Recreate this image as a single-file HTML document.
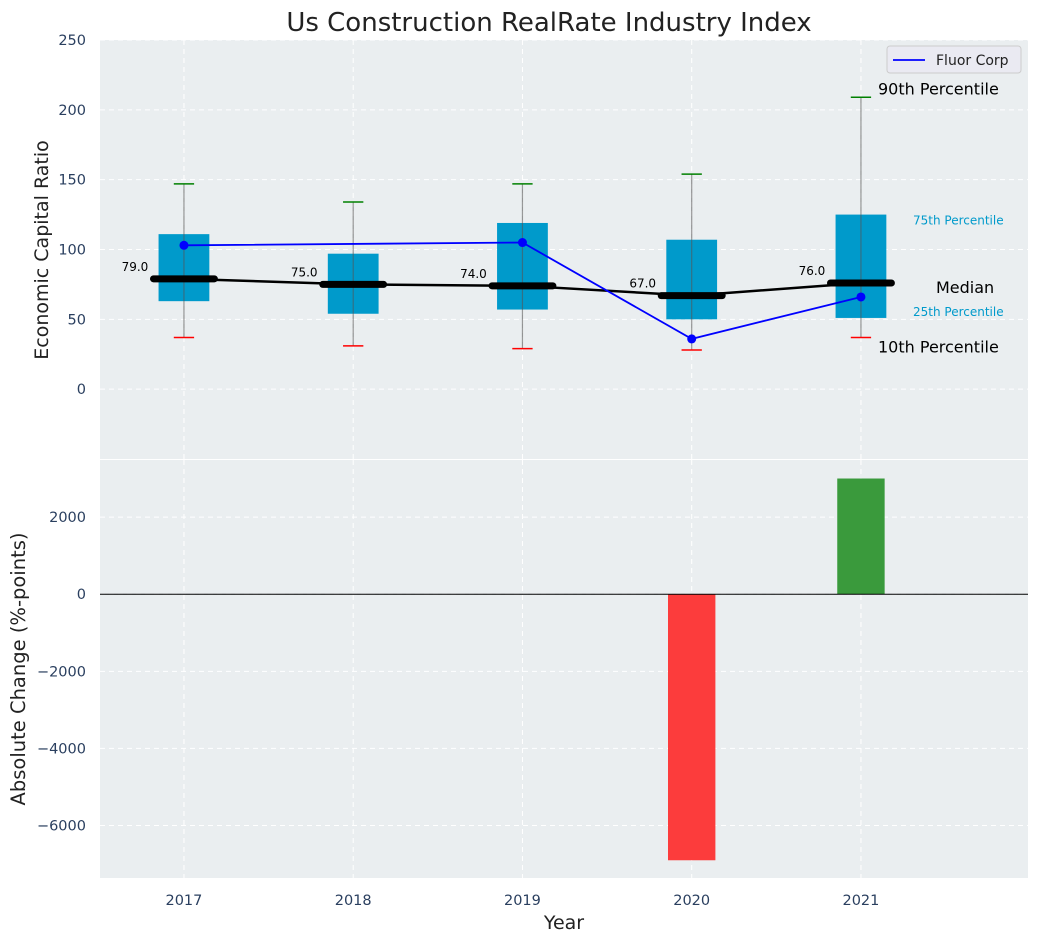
<!DOCTYPE html>
<html><head><meta charset="utf-8"><style>
body{margin:0;background:#fff;font-family:"DejaVu Sans","Liberation Sans",sans-serif}
</style></head><body>
<svg id="c" width="1039" height="942" xmlns="http://www.w3.org/2000/svg"></svg>
<script>
const years=[2017,2018,2019,2020,2021];
const p10=[37,31,29,28,37];
const p25=[63,54,57,50,51];
const med=[79,75,74,67,76];
const p75=[111,97,119,107,125];
const p90=[147,134,147,154,209];
const fluorYears=[2017,2019,2020,2021];
const fluor=[103,105,36,66];
const changeYears=[2020,2021];
const changes=[-6900,3000];
const topTicks=[0,50,100,150,200,250];
const botTicks=[-6000,-4000,-2000,0,2000];

const NS="http://www.w3.org/2000/svg";
const svg=document.getElementById('c');
function el(t,a,p){const e=document.createElementNS(NS,t);for(const k in a)e.setAttribute(k,a[k]);(p||svg).appendChild(e);return e;}
function txt(s,a,p){const e=el('text',a,p);e.textContent=s;return e;}
const X0=100,X1=1028;
const x=v=>X0+(v-2016.504)/(5.483)*(X1-X0);
const T0=40,T1=459;const yt=v=>T0+(250-v)/(300)*(T1-T0);
const B0=460,B1=878;const yb=v=>B0+(3480-v)/(3480+7360)*(B1-B0);

let r=el('rect',{x:X0,y:T0,width:X1-X0,height:T1-T0,fill:'#eaeef0'});

r=el('rect',{x:X0,y:B0,width:X1-X0,height:B1-B0,fill:'#eaeef0'});


const grid={stroke:'#fff','stroke-dasharray':'5,4','stroke-width':1};
years.forEach(v=>{el('line',Object.assign({x1:x(v),x2:x(v),y1:T0,y2:T1},grid));el('line',Object.assign({x1:x(v),x2:x(v),y1:B0,y2:B1},grid));});
topTicks.forEach(v=>{el('line',Object.assign({x1:X0,x2:X1,y1:yt(v),y2:yt(v)},grid));
 const t=txt(v,{x:86,y:yt(v)+5,'text-anchor':'end','font-size':14.5,fill:'#2a3f5f'});
 });
botTicks.forEach(v=>{el('line',Object.assign({x1:X0,x2:X1,y1:yb(v),y2:yb(v)},grid));
 const t=txt(String(v).replace('-','\u2212'),{x:86,y:yb(v)+5,'text-anchor':'end','font-size':14.5,fill:'#2a3f5f'});
 });
years.forEach(v=>{const t=txt(v,{x:x(v),y:905,'text-anchor':'middle','font-size':14.5,fill:'#2a3f5f'});
 });

const bw=0.3,cw=0.12,mw=0.42;
years.forEach((v,i)=>{
 const g=el('g',{});
 el('rect',{x:x(v-bw/2),y:yt(p75[i]),width:x(v+bw/2)-x(v-bw/2),height:yt(p25[i])-yt(p75[i]),fill:'#009acb'},g);
 el('line',{x1:x(v),x2:x(v),y1:yt(p90[i]),y2:yt(p10[i]),stroke:'#555','stroke-opacity':0.6,'stroke-width':1.2},g);
 el('line',{x1:x(v-cw/2),x2:x(v+cw/2),y1:yt(p90[i]),y2:yt(p90[i]),stroke:'green','stroke-width':1.5},g);
 el('line',{x1:x(v-cw/2),x2:x(v+cw/2),y1:yt(p10[i]),y2:yt(p10[i]),stroke:'red','stroke-width':1.5},g);
});
let pl=el('polyline',{points:years.map((v,i)=>x(v)+','+yt(med[i])).join(' '),fill:'none',stroke:'#000','stroke-width':2.5});

years.forEach((v,i)=>{
 const l=el('line',{x1:x(v-mw/2+0.03),x2:x(v+mw/2-0.03),y1:yt(med[i]),y2:yt(med[i]),stroke:'#000','stroke-width':7,'stroke-linecap':'round'});
 
 const t=txt(med[i].toFixed(1),{x:x(v)-49,y:yt(med[i])-8,'text-anchor':'middle','font-size':12,fill:'#000'});
 
});
pl=el('polyline',{points:fluorYears.map((v,i)=>x(v)+','+yt(fluor[i])).join(' '),fill:'none',stroke:'blue','stroke-width':1.8});

fluorYears.forEach((v,i)=>{const c=el('circle',{cx:x(v),cy:yt(fluor[i]),r:4.5,fill:'blue'});
 });

const li=4;
[['90th Percentile',p90[li],16,'#000',878,-3],['10th Percentile',p10[li],16,'#000',878,15],['Median',med[li],16,'#000',936,10],['75th Percentile',p75[li],12,'#009acb',913,10],['25th Percentile',p25[li],12,'#009acb',913,-2]].forEach(a=>{
 const t=txt(a[0],{x:a[4],y:yt(a[1])+a[5],'font-size':a[2],fill:a[3]});
 
});
const lg=el('g',{});
el('rect',{x:887,y:46,width:134,height:27,rx:3,fill:'#eaeaf2',stroke:'#ccc'},lg);
el('line',{x1:893,x2:925,y1:60,y2:60,stroke:'blue','stroke-width':1.8},lg);
txt('Fluor Corp',{x:936,y:65,'font-size':14,fill:'#222'},lg);

changeYears.forEach((v,i)=>{const y0=yb(0),y1=yb(changes[i]);
 const b=el('rect',{x:x(v-0.14),y:Math.min(y0,y1),width:x(v+0.14)-x(v-0.14),height:Math.abs(y1-y0),fill:changes[i]<0?'#fc3c3c':'#3a9a3c'});
 });
el('line',{x1:X0,x2:X1,y1:yb(0),y2:yb(0),stroke:'#000','stroke-width':1});

let t=txt('Us Construction RealRate Industry Index',{x:549,y:31,'text-anchor':'middle','font-size':26,fill:'#222'});

t=txt('Economic Capital Ratio',{x:0,y:0,transform:'translate(48,250) rotate(-90)','text-anchor':'middle','font-size':19,fill:'#222'});

t=txt('Absolute Change (%-points)',{x:0,y:0,transform:'translate(25,669) rotate(-90)','text-anchor':'middle','font-size':19.5,fill:'#222'});

t=txt('Year',{x:564,y:929,'text-anchor':'middle','font-size':19,fill:'#222'});

</script>
</body></html>
